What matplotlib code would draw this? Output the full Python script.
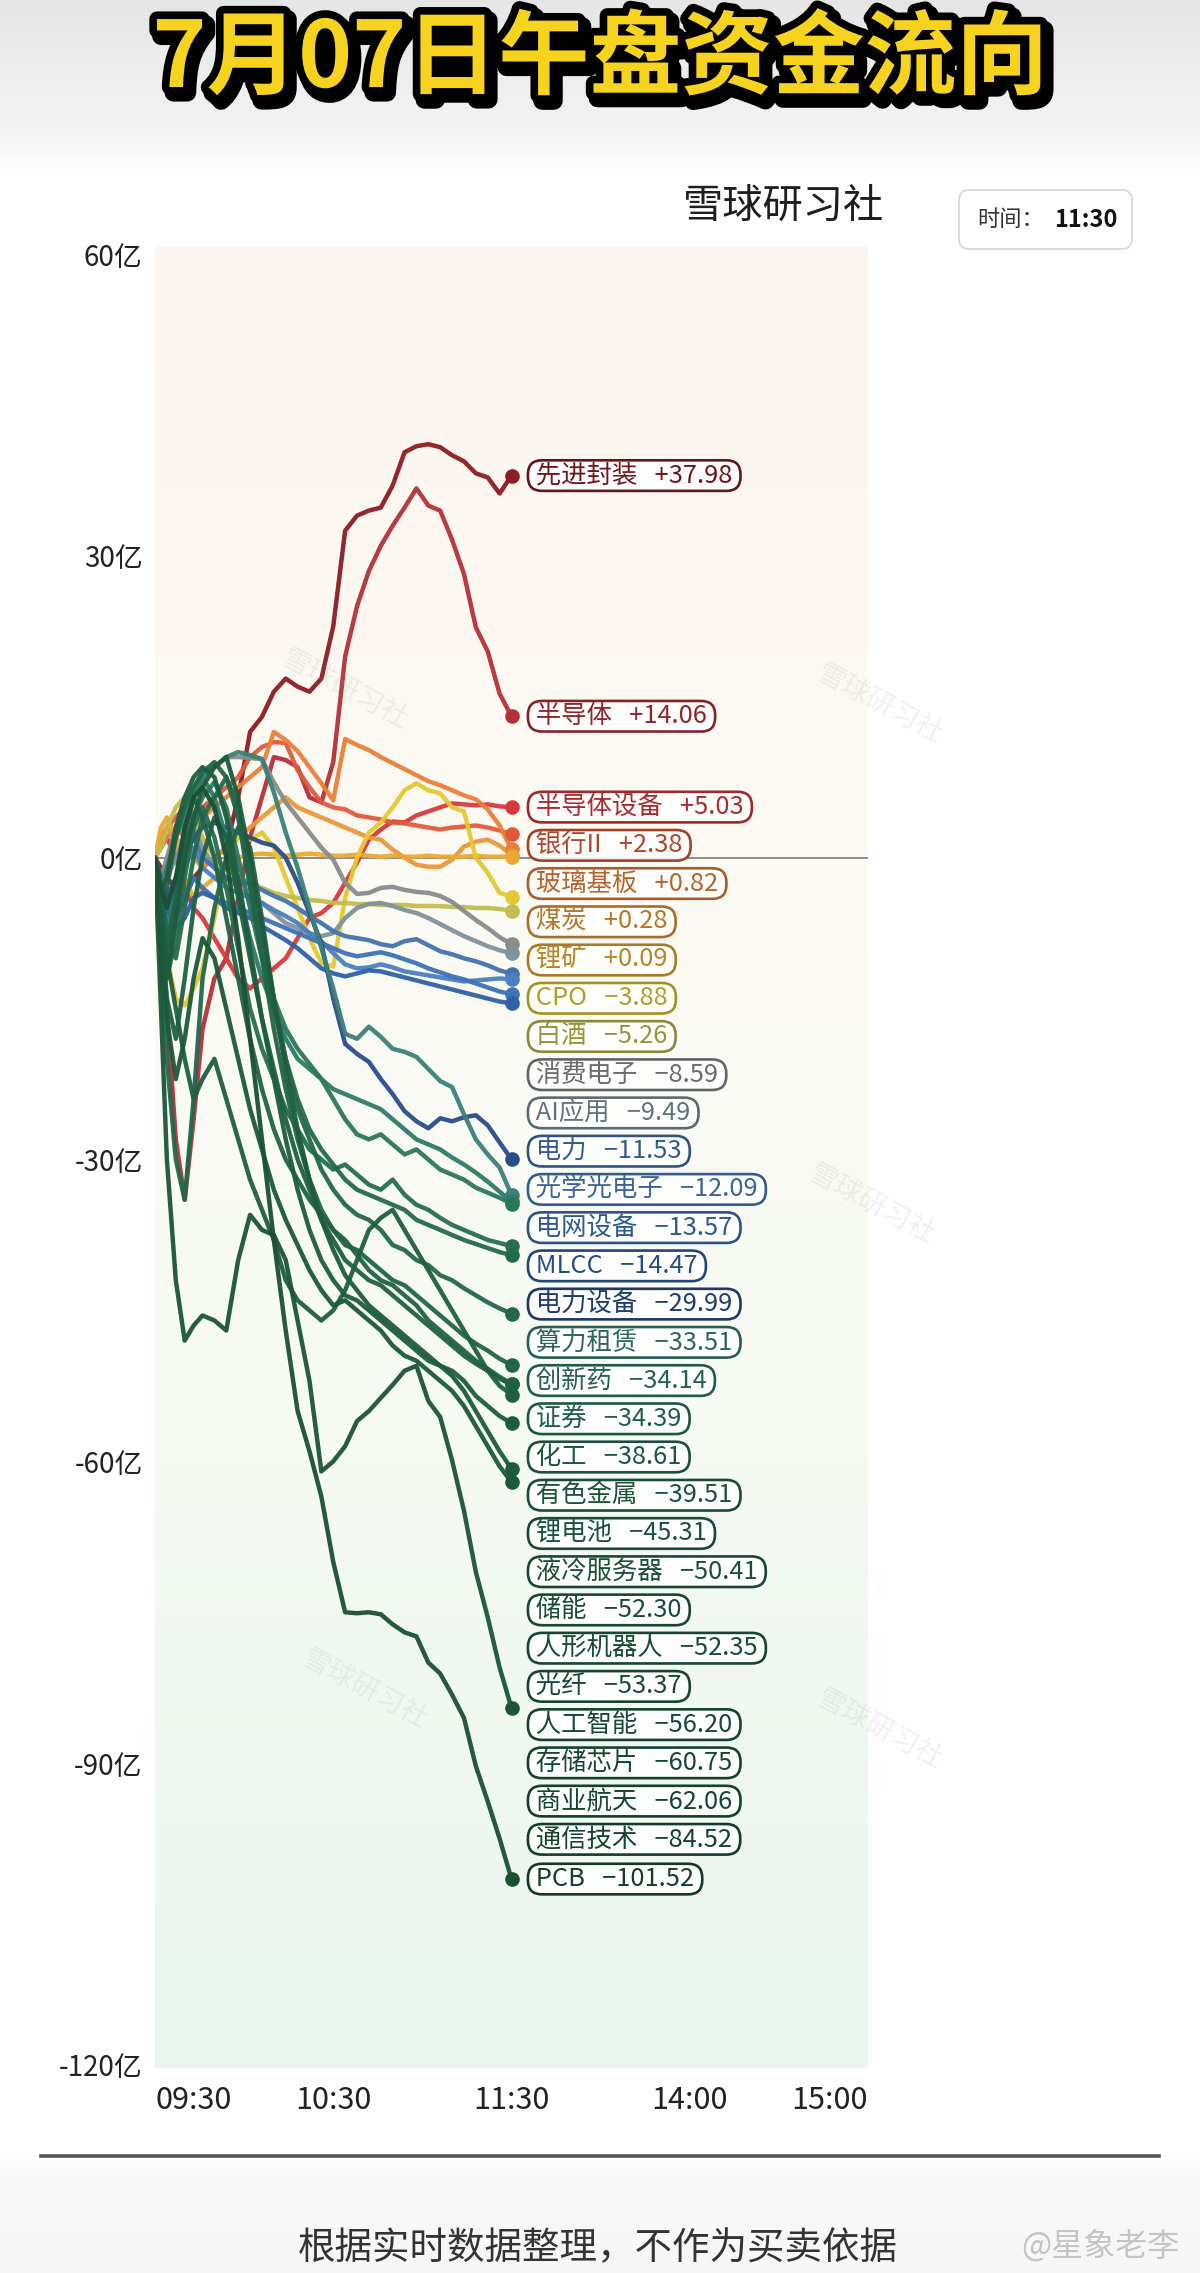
import numpy as np
import matplotlib
matplotlib.use("Agg")
import matplotlib.pyplot as plt
import matplotlib.patheffects as pe
from matplotlib.colors import LinearSegmentedColormap, to_rgb
from matplotlib.patches import FancyBboxPatch

plt.rcParams['font.family'] = ['Noto Sans CJK SC', 'DejaVu Sans']

# minutes after 09:30 (morning session only so far)
minutes = [0, 2, 4, 7, 10, 13, 16, 20, 24, 28, 32, 36, 40, 44, 48, 52, 56, 60,
           64, 68, 72, 76, 80, 84, 88, 92, 96, 100, 104, 108, 112, 116, 120]

sectors = ["先进封装", "半导体", "半导体设备", "银行II", "玻璃基板", "煤炭", "锂矿", "CPO",
           "白酒", "消费电子", "AI应用", "电力", "光学光电子", "电网设备", "MLCC", "电力设备",
           "算力租赁", "创新药", "证券", "化工", "有色金属", "锂电池", "液冷服务器", "储能",
           "人形机器人", "光纤", "人工智能", "存储芯片", "商业航天", "通信技术", "PCB"]

latest = [37.98, 14.06, 5.03, 2.38, 0.82, 0.28, 0.09, -3.88, -5.26, -8.59, -9.49,
          -11.53, -12.09, -13.57, -14.47, -29.99, -33.51, -34.14, -34.39, -38.61,
          -39.51, -45.31, -50.41, -52.30, -52.35, -53.37, -56.20, -60.75, -62.06,
          -84.52, -101.52]

# net inflow (亿) per sector
xjfz = [0, -1, -2, -3, -4, -2, -1, 0, 1, 6, 12.5, 14, 16.5, 17.8, 17, 16.5, 17.8, 23, 32.5, 34,
        34.5, 34.8, 37, 40.3, 40.9, 41.1, 40.8, 40, 39.4, 38.2, 37.8, 36.2, 37.98]
bdt = [0, -5, -15, -28, -34, -26, -17, -12, -10, -4, 2, 6, 10, 9.7, 9, 6, 5.5, 9.5, 20, 25,
       28.5, 31, 33, 34.8, 36.7, 35, 34.5, 31.6, 28.2, 22.9, 20.5, 16.3, 14.06]
bdtsb = [0, 1, 2, 0, -3, -5, -6, -8, -10, -12, -13, -12, -11, -10, -8, -6, -5.5, -4.5, -2.5, -0.5,
         1.8, 2.8, 3.6, 3.5, 4.2, 4.6, 5, 5.4, 5.3, 5.2, 5.3, 5.1, 5.03]
yinhang = [0, 2, 3, 4, 5, 4, 5, 6, 7, 8, 10, 11, 11.5, 11.4, 8.7, 7, 5.5, 5, 4.8, 4.2,
           4, 3.8, 3.5, 3.4, 3.2, 3, 2.8, 3, 3.1, 3.2, 3, 2.7, 2.38]
boli = [0, 1, 2, 3, 2, 3, 4, 5, 6, 7, 8, 9, 12.5, 11.7, 10.6, 9, 7.4, 5.7, 11.8, 11.2,
        10.7, 10, 9.4, 8.8, 8.2, 7.6, 7.2, 6.7, 6.2, 5.8, 4.8, 3.2, 0.82]
meitan = [0, 2, 3, 2, 1, 0, -1, 0, 1, 2, 3, 4, 5, 6, 5, 4.5, 4, 3.5, 3, 2.5,
          2, 1.8, 0.8, 0, -0.7, -0.9, -0.9, -0.2, 1.1, 1.6, 1.8, 1.2, 0.28]
likuang = [0, 3, 4, 2, -2, -4, -3, -2, -1, 0, 0.3, 0.4, 0.3, 0.2, 0.3, 0.4, 0.3, 0.2, 0.2, 0.3,
           0.2, 0.1, 0.2, 0.1, 0.1, 0.2, 0.1, 0.1, 0.1, 0.2, 0.1, 0.1, 0.09]
cpo = [0, -5, -10, -14, -14.7, -13, -11, -6, 0, 2, 1.8, 2.5, 1, -2, -5, -8, -10.5, -10.8, -4, 0,
       2.5, 3.5, 5, 6.7, 7.4, 6.7, 6.4, 5, 4.6, 0, -1.5, -3.5, -3.88]
baijiu = [0, 1, 3, 5, 6, 4, 2, 0, -1, -2, -2.5, -3, -3.5, -3.8, -4, -4.2, -4.3, -4.5, -4.5, -4.6,
          -4.6, -4.7, -4.7, -4.7, -4.8, -4.8, -4.8, -4.9, -4.9, -5, -5, -5.1, -5.26]
xfdz = [0, -2, 0, 3, 5, 7, 8, 9, 10, 10, 9.9, 9.8, 7.5, 5.5, 4, 2.5, 1, -0.2, -2.5, -3.6,
        -3.5, -3, -2.9, -3.2, -3.4, -3.5, -3.8, -4.4, -5.3, -6.2, -7, -7.9, -8.59]
aiyy = [0, -3, -2, 0, 2, 3, 1, -1, -2, -3, -4, -4.5, -5.5, -6.5, -7, -7.5, -7.8, -7.5, -6, -5,
        -4.6, -4.5, -4.8, -5.2, -5.5, -6, -6.6, -7.2, -7.8, -8.3, -8.8, -9.2, -9.49]
dianli = [0, -3, -5, -2, 1, 2, 0, -1, -2, -2.3, -2.6, -3.2, -3.8, -4.3, -5, -5.8, -6.5, -7.3, -7.8, -8,
          -8.2, -8.6, -8.8, -8.3, -8.1, -8.7, -9.3, -9.6, -10, -10.3, -10.7, -11.2, -11.53]
gxgdz = [0, -4, -6, -3, -1, 1, -1, -2, -3, -3.5, -4, -4.5, -5.2, -5.8, -6.5, -7.5, -8.3, -9.5, -10.6, -11,
         -10.9, -10.6, -10.9, -11.3, -11.5, -11.7, -11.9, -12.1, -12.3, -12.2, -12.1, -12.0, -12.09]
dwsb = [0, -2, -4, -6, -4, -2, -3, -4, -4.5, -5, -5.5, -6, -6.5, -7, -7.5, -8, -8.5, -9, -9.5, -9.8,
        -9.6, -9.4, -9.7, -10.1, -10.5, -11, -11.4, -11.8, -12.1, -12.5, -12.9, -13.3, -13.57]
mlcc = [0, -3, -5, -7, -6, -4, -3.5, -4, -5, -5.5, -6, -6.8, -7.5, -8.2, -9, -10, -11, -11.5, -11.8, -11.5,
        -11.2, -11.3, -11.6, -11.9, -12.2, -12.5, -12.8, -13.1, -13.4, -13.7, -14, -14.3, -14.47]
dlsb = [0, -2, -4, -2, 0, 2, 3, 3.5, 3, 2.5, 2, 1.5, 1.2, 0, -2.5, -5.5, -8.5, -14, -18.5, -19.5,
        -20.3, -22, -23.5, -25.2, -26.2, -26.9, -25.9, -26.2, -25.8, -25.6, -26.6, -28.3, -29.99]
slzl = [0, -3, -1, 2, 4, 6, 8, 9, 10, 10.5, 10.2, 9.8, 6.5, 2.5, -1, -5, -9, -13, -17.5, -18,
        -16.8, -17.8, -19, -19.3, -19.8, -21, -22.2, -22.8, -25.5, -28, -29.5, -30.8, -33.51]
cxy = [0, -4, -8, -3, 3, 6, 8, 6, 2, -3, -8, -12, -15, -18, -20, -21, -22, -23, -23.5, -24,
       -24.5, -25, -26, -27, -28, -28.5, -29, -29.8, -30.5, -31.3, -32.2, -33.2, -34.14]
zhengquan = [0, -6, -10, -5, 0, 4, 6, 7.5, 5, 0, -5, -10, -14, -17, -19, -20.5, -22, -24, -26, -27.5,
             -28, -27.5, -28.5, -29.5, -29, -30, -31, -31.5, -32, -32.8, -33.3, -33.8, -34.39]
huagong = [0, -5, -12, -8, -2, 3, 5, 2, -3, -9, -15, -19, -22, -25, -27, -29, -30, -31, -30.5, -31.5,
           -32.5, -33, -32, -33.5, -34.5, -35, -35.8, -36.5, -37, -37.5, -38, -38.3, -38.61]
ysjs = [0, -3, -7, -10, -5, 0, 4, 6, 8, 5, -2, -9, -15, -20, -24, -27, -29, -30.5, -32, -33,
        -33.5, -34, -34.5, -35, -36, -36.5, -37, -37.5, -38, -38.4, -38.8, -39.2, -39.51]
ldc = [0, -10, -20, -30, -34, -24, -12, -5, 0, 3, 1, -6, -14, -20, -25, -28, -31, -33, -34.5, -35.5,
       -36, -37, -38.5, -39, -40, -40.5, -41.5, -42, -42.8, -43.5, -44.2, -44.8, -45.31]
lfwq = [0, -5, -3, 2, 5, 7, 8.5, 9.5, 8, 4, -3, -10, -17, -23, -28, -32, -35, -37, -38.5, -39,
        -40, -41, -42, -42.5, -43.5, -44.5, -45.5, -46.5, -47.5, -48.3, -49, -49.8, -50.41]
chuneng = [0, -4, -9, -4, 2, 6, 4, 0, -6, -12, -18, -23, -27, -30, -32, -34, -35.5, -37, -38, -39.5,
           -41, -42, -42.5, -43.5, -44.5, -46, -47, -48, -49, -50, -50.8, -51.6, -52.30]
rxjqr = [0, -7, -14, -18, -12, -5, 0, 4, 2, -4, -10, -16, -21, -26, -30, -33, -36, -38, -40, -41,
         -42, -42.5, -43.5, -44.5, -45.5, -46.5, -47.5, -48.5, -49.5, -50.3, -51, -51.8, -52.35]
guangxian = [0, -5, -10, -15, -20, -24, -22, -20, -24, -28, -32, -35, -38, -42, -44, -45, -46, -45, -43, -40,
             -37, -35.8, -35, -37, -39, -41, -43, -45, -47, -49, -51, -52.5, -53.37]
rgzn = [0, -3, -2, 3, 6, 8, 9, 8, 4, -2, -9, -16, -22, -28, -33, -37, -40, -42, -43.5, -44,
        -45, -46, -47, -48, -49, -50, -50.5, -51, -52, -53.5, -54.5, -55.5, -56.20]
ccxp = [0, -6, -12, -6, 0, 4, 7, 9, 10, 6, 0, -7, -14, -21, -27, -32, -36, -39, -41.5, -43,
        -44.5, -45.5, -46.5, -47.5, -48.5, -49.5, -50.5, -51.5, -53, -55, -57, -59, -60.75]
syht = [0, -8, -16, -22, -18, -12, -8, -10, -15, -20, -25, -29, -33, -36, -38.5, -41, -43, -44.5, -44, -45,
        -46, -47, -48.5, -49.5, -50, -51, -52, -53, -54.5, -56.5, -58.5, -60.5, -62.06]
txjs = [0, -15, -30, -42, -48, -46.5, -45.5, -46, -47, -40, -35.5, -37, -37.5, -40, -46, -52, -61, -60, -58.5, -56,
        -55, -53.7, -52.4, -51, -50.5, -54, -55.6, -59.9, -64.9, -71, -75.5, -80.5, -84.52]
pcb = [0, -3, -5, -2, 3, 6, 7, 5, 0, -8, -18, -28, -38, -47, -55, -59, -63.5, -70, -75, -75.1,
       -75, -75.2, -76.2, -77, -77.4, -80, -81.1, -83.2, -85.5, -90.3, -93.8, -97.5, -101.52]

series = [xjfz, bdt, bdtsb, yinhang, boli, meitan, likuang, cpo, baijiu, xfdz, aiyy, dianli,
          gxgdz, dwsb, mlcc, dlsb, slzl, cxy, zhengquan, huagong, ysjs, ldc, lfwq, chuneng,
          rxjqr, guangxian, rgzn, ccxp, syht, txjs, pcb]

colors = ['#8c1c22', '#b53038', '#d8383d', '#e05a3a', '#e9803a', '#ec9636', '#eaa934', '#e4c932',
          '#c2bd4e', '#888c8c', '#7e939c', '#4472b0', '#4a7fc2', '#3b72b8', '#2f61a6', '#294d8a',
          '#3b8078', '#2f7b68', '#2a775c', '#256e50', '#236a4b', '#22674a', '#216447', '#206245',
          '#1f6043', '#1e5e41', '#1e5c40', '#1d5a3e', '#1c583c', '#1b5538', '#1a4f33']

x_ticks = [0, 60, 120, 180, 240]
x_tick_labels = ["09:30", "10:30", "11:30", "14:00", "15:00"]
y_ticks = [60, 30, 0, -30, -60, -90, -120]
y_tick_labels = ["60亿", "30亿", "0亿", "-30亿", "-60亿", "-90亿", "-120亿"]

W, H = 1200, 2273
fig = plt.figure(figsize=(W / 100, H / 100), dpi=100)
fig.patch.set_facecolor('white')

# page background (grey title band fading into the white card)
bg = fig.add_axes([0, 0, 1, 1], zorder=-5)
rows = np.arange(H)
shade = np.interp(rows, [0, 120, 175, 2150, 2180, H], [0.90, 0.95, 1.0, 1.0, 0.975, 0.97])
bg.imshow(np.dstack([shade, shade, shade]).reshape(H, 1, 3), aspect='auto',
          extent=[0, W, H, 0])
bg.set_xlim(0, W)
bg.set_ylim(H, 0)
bg.axis('off')

# chart area
ax = fig.add_axes([155 / W, 1 - 2068 / H, 713 / W, (2068 - 246) / H])
ax.set_xlim(0, 240)
ax.set_ylim(-120.3, 60.8)
grad = LinearSegmentedColormap.from_list('bg', ['#fdf5f0', '#fcfaf3', '#f5faf3', '#eaf6ee'])
ax.imshow(np.linspace(0, 1, 200)[:, None], cmap=grad, aspect='auto',
          extent=[0, 240, -120.3, 60.8], zorder=0)
for s in ax.spines.values():
    s.set_visible(False)

ax.axhline(0, color='#6f6f6f', lw=1.1, zorder=1)

for i, (vals, c) in enumerate(zip(series, colors)):
    ax.plot(minutes, vals, color=c, lw=3.2, alpha=0.95, solid_joinstyle='round',
            solid_capstyle='round', zorder=2 + i * 0.01)
    ax.plot(minutes[-1], vals[-1], 'o', color=c, ms=9.5, zorder=3 + i * 0.01)

# labels pushed downward from the top so they don't overlap
gap = 3.8
label_y = list(latest)
for i in range(1, len(latest)):
    label_y[i] = min(latest[i], label_y[i - 1] - gap)

for name, v, ly, c in zip(sectors, latest, label_y, colors):
    rgb = np.array(to_rgb(c))
    txt = f" {name}   {v:+.2f} ".replace('-', '\u2212')
    ax.text(126.3, ly, txt, fontsize=18.3, color=rgb * 0.78, ha='left', va='center',
            zorder=10, clip_on=False,
            bbox=dict(boxstyle='round,pad=0.09,rounding_size=0.55', fc=(1, 1, 1, 0.88),
                      ec=rgb * 0.72, lw=1.9))

ax.set_yticks(y_ticks)
ax.set_yticklabels(y_tick_labels, fontsize=20, color='#222222')
ax.set_xticks(x_ticks)
ax.set_xticklabels(x_tick_labels, fontsize=22, color='#222222')
ax.tick_params(axis='y', length=0, pad=9)
ax.tick_params(axis='x', length=0, pad=12)
xl = ax.get_xticklabels()
xl[0].set_ha('left')
xl[-1].set_ha('right')

# overlay in pixel coordinates for the page decoration
ov = fig.add_axes([0, 0, 1, 1], zorder=5)
ov.set_xlim(0, W)
ov.set_ylim(H, 0)
ov.axis('off')

ov.text(600, 60, "7月07日午盘资金流向", fontsize=66, fontweight='heavy', color='#f5d31e',
        ha='center', va='center',
        path_effects=[pe.Stroke(linewidth=13, foreground='black', offset=(3, -4)),
                      pe.Stroke(linewidth=11, foreground='black'), pe.Normal()])

ov.text(784, 206, "雪球研习社", fontsize=29, color='#1e1e1e', ha='center', va='center')

ov.add_patch(FancyBboxPatch((959, 190), 173, 59, boxstyle='round,pad=0,rounding_size=10',
                            fc='white', ec='#d8d8d8', lw=1.3))
ov.text(977, 220, "时间：", fontsize=16, color='#333333', ha='left', va='center')
ov.text(1054, 220, "11:30", fontsize=17, fontweight='bold', color='#111111', ha='left',
        va='center')

# faint watermarks
for wx, wy in [(880, 705), (872, 1205), (345, 690), (365, 1690), (880, 1730)]:
    ov.text(wx, wy, "雪球研习社", fontsize=20, color='#9a9a9a', alpha=0.14, rotation=-28,
            ha='center', va='center')

ov.plot([41, 1159], [2156, 2156], color='#555555', lw=2.6)
ov.text(598, 2249, "根据实时数据整理，不作为买卖依据", fontsize=27, color='#333333',
        ha='center', va='center')
ov.text(1100, 2246, "@星象老李", fontsize=23, color='#c4c4c4', ha='center', va='center')

fig.savefig('out.png', dpi=100)
